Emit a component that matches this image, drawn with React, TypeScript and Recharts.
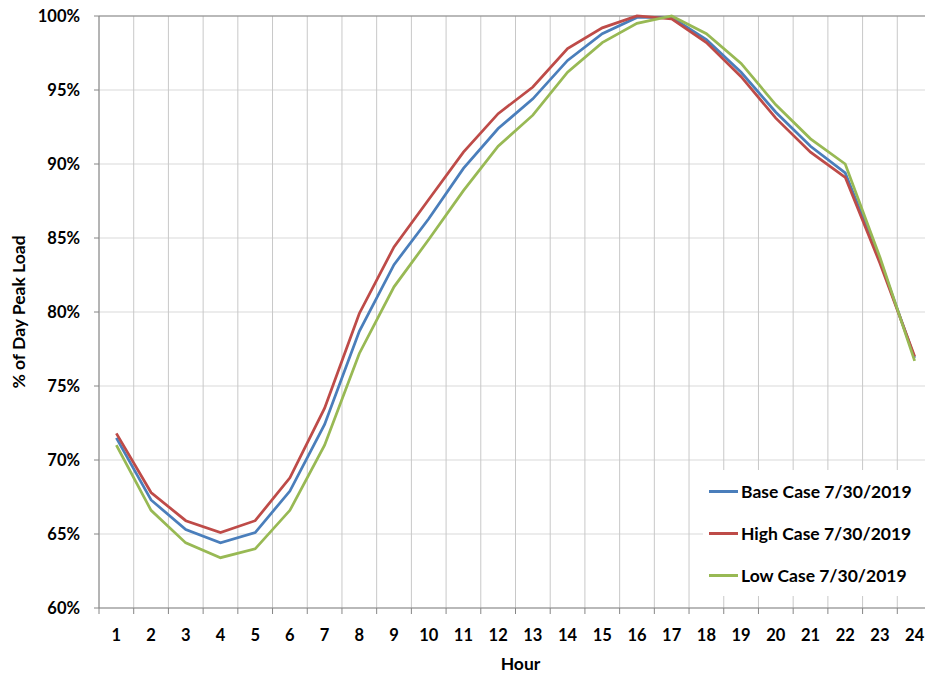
import { LineChart, Line, XAxis, YAxis, CartesianGrid, Legend, ReferenceLine } from "recharts";

const hours = [1, 2, 3, 4, 5, 6, 7, 8, 9, 10, 11, 12, 13, 14, 15, 16, 17, 18, 19, 20, 21, 22, 23, 24];
const baseCase = [71.5, 67.3, 65.3, 64.4, 65.1, 67.9, 72.4, 78.7, 83.2, 86.3, 89.7, 92.4, 94.4, 97.0, 98.8, 99.9, 99.9, 98.4, 96.2, 93.5, 91.2, 89.4, 83.5, 76.9];
const highCase = [71.8, 67.8, 65.9, 65.1, 65.9, 68.8, 73.5, 79.9, 84.4, 87.6, 90.8, 93.4, 95.2, 97.8, 99.2, 100.0, 99.8, 98.2, 95.9, 93.1, 90.8, 89.1, 83.3, 77.0];
const lowCase = [71.0, 66.6, 64.4, 63.4, 64.0, 66.6, 71.0, 77.2, 81.7, 84.9, 88.2, 91.2, 93.3, 96.2, 98.2, 99.5, 100.0, 98.8, 96.8, 94.0, 91.7, 90.0, 83.7, 76.7];
const yTicks = [60, 65, 70, 75, 80, 85, 90, 95, 100];

const data = hours.map((h, i) => ({ hour: h, base: baseCase[i], high: highCase[i], low: lowCase[i] }));

const CHART_W = 940;
const CHART_H = 677;
const Y_AXIS_W = 99;
const MARGIN_RIGHT = 8;
const STEP = (CHART_W - Y_AXIS_W - MARGIN_RIGHT) / hours.length;

const FONT = "Lato, 'Open Sans', sans-serif";
const AXIS_COLOR = "#868686";

function HourTick(props: any) {
  const { x, y, payload } = props;
  const axisY = y - 8;
  const bx = x - STEP / 2;
  return (
    <g>
      <line x1={bx} y1={axisY} x2={bx} y2={axisY + 6} stroke={AXIS_COLOR} />
      <text x={x} y={y + 19} textAnchor="middle" dominantBaseline="central" fontFamily={FONT} fontWeight={700} fontSize={16.5} fill="#000">
        {payload.value}
      </text>
    </g>
  );
}

function LegendBox(props: any) {
  const items = props.payload || [];
  return (
    <div style={{ background: "#fff", width: 240, height: 126, paddingLeft: 6, boxSizing: "border-box" }}>
      {items.map((it: any) => (
        <div key={it.value} style={{ height: 42, display: "flex", alignItems: "center" }}>
          <span style={{ display: "inline-block", width: 29, height: 3, background: it.color, marginRight: 3 }} />
          <span style={{ fontFamily: FONT, fontWeight: 700, fontSize: 17.5, color: "#000", whiteSpace: "nowrap" }}>{it.value}</span>
        </div>
      ))}
    </div>
  );
}

export default function App() {
  return (
    <div style={{ position: "absolute", left: 0, top: 0, width: 925, height: 677, overflow: "hidden", background: "#fff" }}>
      <LineChart width={CHART_W} height={CHART_H} data={data} margin={{ top: 16, right: MARGIN_RIGHT, bottom: 0, left: 0 }}>
        <CartesianGrid vertical={false} stroke="#d9d9d9" />
        <CartesianGrid
          horizontal={false}
          stroke="#c8c8c8"
          verticalCoordinatesGenerator={({ offset }: any) =>
            Array.from({ length: hours.length + 1 }, (_, k) => offset.left + (k * offset.width) / hours.length)
          }
        />
        <ReferenceLine y={100} stroke={AXIS_COLOR} />
        <XAxis
          dataKey="hour"
          type="number"
          domain={[0.5, 24.5]}
          ticks={hours}
          interval={0}
          allowDataOverflow
          height={69}
          stroke={AXIS_COLOR}
          tickLine={false}
          tick={<HourTick />}
          label={{
            content: ({ viewBox }: any) => (
              <text x={viewBox.x + viewBox.width / 2 + 5} y={663} textAnchor="middle" dominantBaseline="central" fontFamily={FONT} fontWeight={700} fontSize={17.5} fill="#000">
                Hour
              </text>
            ),
          }}
        />
        <YAxis
          domain={[60, 100]}
          ticks={yTicks}
          interval={0}
          width={Y_AXIS_W}
          stroke={AXIS_COLOR}
          tickSize={5}
          tickMargin={14}
          tickFormatter={(v: number) => `${v}%`}
          tick={{ fontFamily: FONT, fontWeight: 700, fontSize: 16.5, fill: "#000" }}
          label={{
            content: ({ viewBox }: any) => {
              const cy = viewBox.y + viewBox.height / 2;
              return (
                <text x={18} y={cy} transform={`rotate(-90, 18, ${cy})`} textAnchor="middle" dominantBaseline="central" fontFamily={FONT} fontWeight={700} fontSize={17.5} fill="#000">
                  % of Day Peak Load
                </text>
              );
            },
          }}
        />
        <Legend
          layout="vertical"
          align="center"
          verticalAlign="middle"
          wrapperStyle={{ left: 703, top: 470, width: 240, height: 126 }}
          content={<LegendBox />}
        />
        <Line type="linear" dataKey="base" name="Base Case 7/30/2019" stroke="#4a7ebb" strokeWidth={2.75} dot={false} isAnimationActive={false} />
        <Line type="linear" dataKey="high" name="High Case 7/30/2019" stroke="#be4b48" strokeWidth={2.75} dot={false} isAnimationActive={false} />
        <Line type="linear" dataKey="low" name="Low Case 7/30/2019" stroke="#98b954" strokeWidth={2.75} dot={false} isAnimationActive={false} />
      </LineChart>
    </div>
  );
}
